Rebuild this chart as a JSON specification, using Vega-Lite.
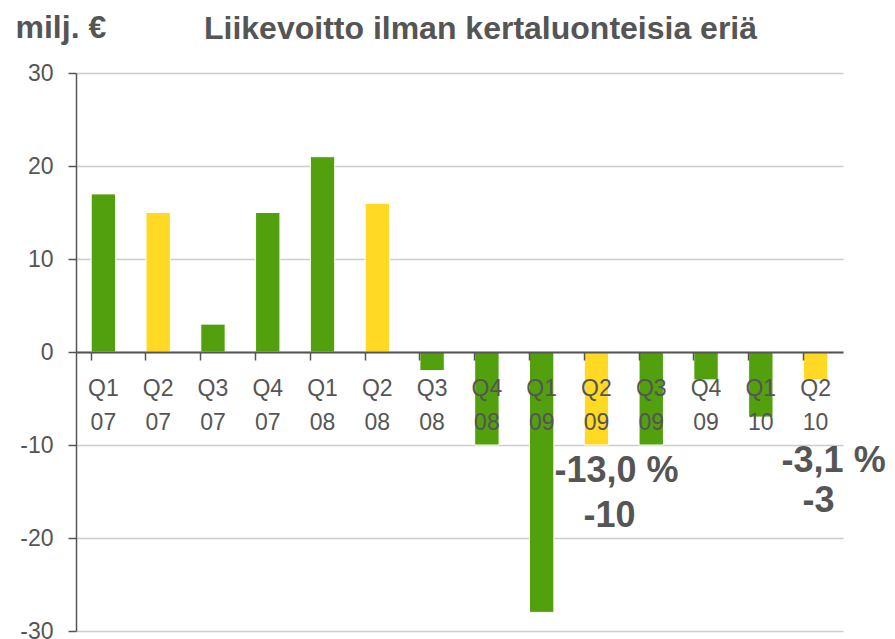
{
  "$schema": "https://vega.github.io/schema/vega-lite/v6.json",
  "width": 767,
  "height": 558,
  "autosize": {"type": "none"},
  "padding": {"left": 76, "top": 73, "right": 52, "bottom": 8},
  "background": "white",
  "config": {"font": "Liberation Sans", "view": {"stroke": null}},
  "datasets": {
    "bars": [
      {"label": "Q1 07", "value": 17, "kind": "muu"},
      {"label": "Q2 07", "value": 15, "kind": "Q2"},
      {"label": "Q3 07", "value": 3, "kind": "muu"},
      {"label": "Q4 07", "value": 15, "kind": "muu"},
      {"label": "Q1 08", "value": 21, "kind": "muu"},
      {"label": "Q2 08", "value": 16, "kind": "Q2"},
      {"label": "Q3 08", "value": -2, "kind": "muu"},
      {"label": "Q4 08", "value": -10, "kind": "muu"},
      {"label": "Q1 09", "value": -28, "kind": "muu"},
      {"label": "Q2 09", "value": -10, "kind": "Q2"},
      {"label": "Q3 09", "value": -10, "kind": "muu"},
      {"label": "Q4 09", "value": -3, "kind": "muu"},
      {"label": "Q1 10", "value": -7, "kind": "muu"},
      {"label": "Q2 10", "value": -3, "kind": "Q2"}
    ]
  },
  "encoding": {
    "x": {
      "field": "label",
      "type": "nominal",
      "sort": null,
      "scale": {"paddingInner": 0.555, "paddingOuter": 0.2775},
      "axis": {
        "title": "Liikevoitto ilman kertaluonteisia eriä",
        "titleFont": "Liberation Sans",
        "titleFontSize": 32,
        "titleFontWeight": "bold",
        "titleColor": "#555555",
        "titleAlign": "center",
        "titleAnchor": null,
        "titleBaseline": "alphabetic",
        "titleX": 404,
        "titleY": -314,
        "orient": "bottom",
        "offset": -279,
        "labelAngle": 0,
        "labelExpr": "split(datum.label, ' ')",
        "labelFont": "Liberation Sans",
        "labelFontSize": 23,
        "labelColor": "#555555",
        "labelLineHeight": 34,
        "labelPadding": 17,
        "bandPosition": 0,
        "tickSize": 8,
        "tickColor": "#555555",
        "tickWidth": 1.5,
        "domainColor": "#555555",
        "domainWidth": 2,
        "grid": false,
        "zindex": 1
      }
    }
  },
  "layer": [
    {
      "data": {"name": "bars"},
      "mark": {"type": "bar", "stroke": "white", "strokeWidth": 1},
      "encoding": {
        "y": {
          "field": "value",
          "type": "quantitative",
          "scale": {"domain": [-30, 30], "nice": false, "zero": false},
          "axis": {
            "values": [-30, -20, -10, 0, 10, 20, 30],
            "labelExpr": "'' + datum.value",
            "labelFont": "Liberation Sans",
            "labelFontSize": 23,
            "labelColor": "#555555",
            "labelPadding": 15,
            "tickSize": 8,
            "tickColor": "#555555",
            "tickWidth": 1.5,
            "domainColor": "#555555",
            "domainWidth": 1.5,
            "gridColor": "#cccccc",
            "gridWidth": 1.5,
            "title": "milj. €",
            "titleAngle": 0,
            "titleAlign": "left",
            "titleBaseline": "alphabetic",
            "titleX": -61,
            "titleY": -36,
            "titleFont": "Liberation Sans",
            "titleFontSize": 32,
            "titleFontWeight": "bold",
            "titleColor": "#555555"
          }
        },
        "color": {
          "field": "kind",
          "type": "nominal",
          "scale": {"domain": ["muu", "Q2"], "range": ["#52A00D", "#FFD924"]},
          "legend": null
        }
      }
    },
    {
      "data": {"values": [{"label": "Q2 09", "y": -12.8, "text": "-13,0 %"}]},
      "mark": {"type": "text", "align": "center", "baseline": "middle", "fontSize": 36, "fontWeight": "bold", "color": "#555555", "dx": 20},
      "encoding": {"y": {"field": "y", "type": "quantitative"}, "text": {"field": "text"}}
    },
    {
      "data": {"values": [{"label": "Q2 09", "y": -17.6, "text": "-10"}]},
      "mark": {"type": "text", "align": "center", "baseline": "middle", "fontSize": 36, "fontWeight": "bold", "color": "#555555", "dx": 13},
      "encoding": {"y": {"field": "y", "type": "quantitative"}, "text": {"field": "text"}}
    },
    {
      "data": {"values": [{"label": "Q2 10", "y": -11.7, "text": "-3,1 %"}]},
      "mark": {"type": "text", "align": "center", "baseline": "middle", "fontSize": 36, "fontWeight": "bold", "color": "#555555", "dx": 18},
      "encoding": {"y": {"field": "y", "type": "quantitative"}, "text": {"field": "text"}}
    },
    {
      "data": {"values": [{"label": "Q2 10", "y": -16.0, "text": "-3"}]},
      "mark": {"type": "text", "align": "center", "baseline": "middle", "fontSize": 36, "fontWeight": "bold", "color": "#555555", "dx": 3},
      "encoding": {"y": {"field": "y", "type": "quantitative"}, "text": {"field": "text"}}
    }
  ]
}
